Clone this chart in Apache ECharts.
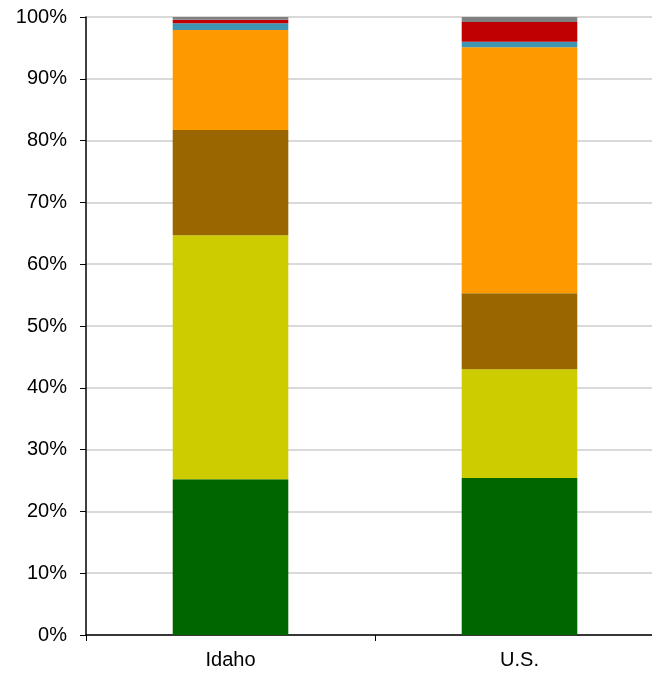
<!DOCTYPE html>
<html>
<head>
<meta charset="utf-8">
<script src="https://cdn.jsdelivr.net/npm/echarts@6/dist/echarts.min.js"></script>
<style>
  html, body { margin: 0; padding: 0; background: #fff; overflow: hidden; }
  /* plot runs past the right edge of the window, like the reference */
  #chart { width: 666px; height: 675px; }
</style>
</head>
<body>
<div id="chart"></div>
<script>
const categories = ['Idaho', 'U.S.']

// stacked shares in percent, bottom to top
const seg1 = [25.2, 25.4]
const seg2 = [39.5, 17.6]
const seg3 = [17.0, 12.3]
const seg4 = [16.2, 39.8]
const seg5 = [1.1, 0.9]
const seg6 = [0.55, 3.2]
const seg7 = [0.45, 0.8]

const yTicks = [0, 10, 20, 30, 40, 50, 60, 70, 80, 90, 100]

const layers = [
    { name: 'seg1', data: seg1, color: '#006600' },
    { name: 'seg2', data: seg2, color: '#cccc00' },
    { name: 'seg3', data: seg3, color: '#996600' },
    { name: 'seg4', data: seg4, color: '#ff9900' },
    { name: 'seg5', data: seg5, color: '#4096b0' },
    { name: 'seg6', data: seg6, color: '#c00000' },
    { name: 'seg7', data: seg7, color: '#808080' },
]

let chart = echarts.init(document.getElementById('chart'))
chart.setOption({
    animation: false,
    textStyle: { fontFamily: 'Liberation Sans, Arial, sans-serif' },
    grid: {
        left: 86,
        top: 17,
        bottom: 40,
        right: 2
    },
    xAxis: {
        type: 'category',
        data: categories,
        axisLine: { lineStyle: { color: '#000', width: 1.5 } },
        axisTick: { show: true, length: 6, lineStyle: { color: '#000' } },
        axisLabel: { color: '#000', fontSize: 20, margin: 15 }
    },
    yAxis: {
        type: 'value',
        min: yTicks[0],
        max: yTicks[yTicks.length - 1],
        interval: 10,
        axisLine: { show: true, lineStyle: { color: '#000', width: 1.5 } },
        axisTick: { show: true, length: 6, lineStyle: { color: '#000' } },
        axisLabel: { color: '#000', fontSize: 20, margin: 19, formatter: '{value}%' },
        splitLine: { lineStyle: { color: '#d9d9d9', width: 2 } }
    },
    series: layers.map(l => ({
        name: l.name,
        type: 'bar',
        stack: 'total',
        barWidth: '40%',
        data: l.data,
        itemStyle: { color: l.color }
    }))
})
</script>
</body>
</html>
